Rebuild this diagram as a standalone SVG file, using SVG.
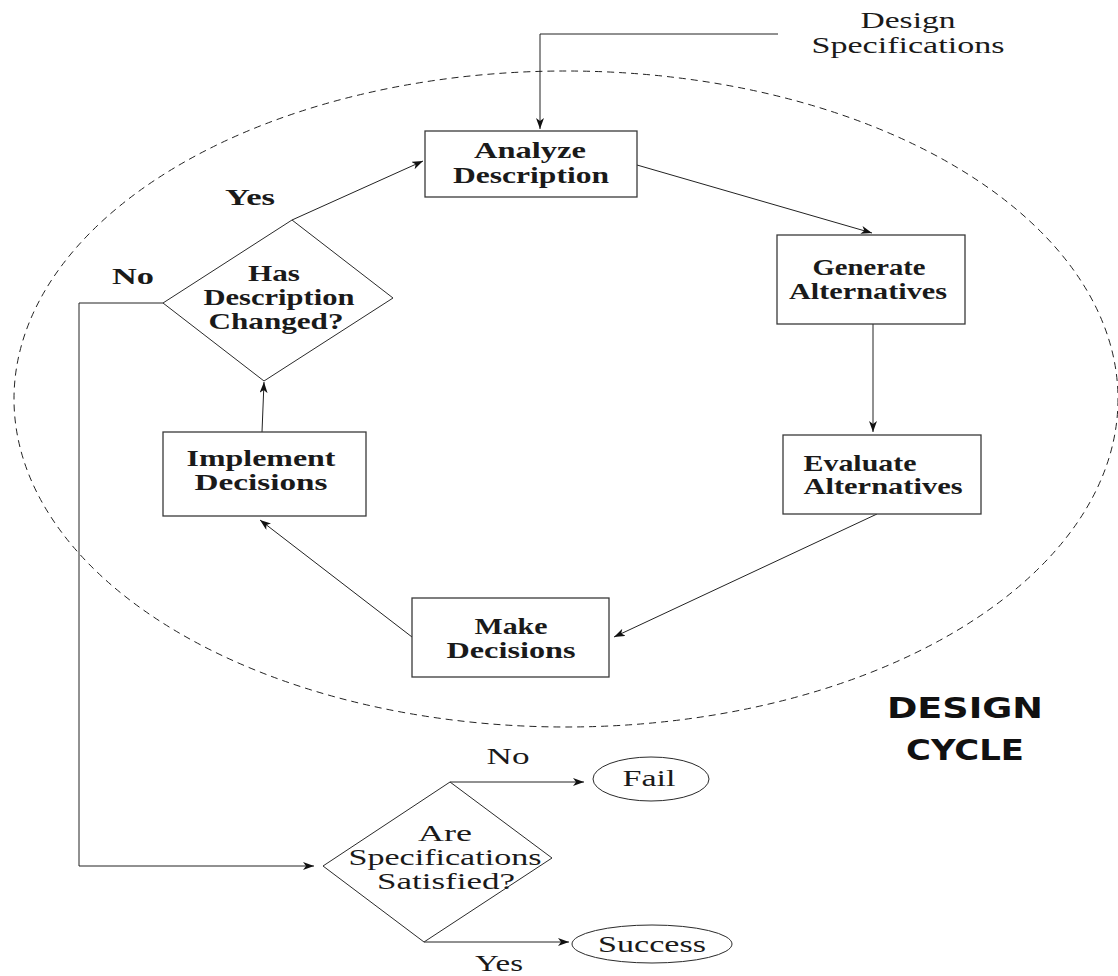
<svg xmlns="http://www.w3.org/2000/svg" width="1118" height="976" viewBox="0 0 1118 976">
<style>
.bg{fill:#fff}
.box{fill:#fff;stroke:#3a3a3a;stroke-width:1.3}
.dia{fill:#fff;stroke:#2a2a2a;stroke-width:1}
.ell{fill:#fff;stroke:#2a2a2a;stroke-width:1}
.cycle{fill:none;stroke:#222;stroke-width:1;stroke-dasharray:7,5}
.con{fill:none;stroke:#222;stroke-width:1}
.b{font-family:"Liberation Serif","Times New Roman",serif;font-weight:bold;font-size:23px;fill:#1a1a1a}
.r{font-family:"Liberation Serif","Times New Roman",serif;font-size:23px;fill:#1a1a1a}
.disp{font-family:"DejaVu Sans","Liberation Sans",sans-serif;font-weight:900;font-size:29px;fill:#111}
text{text-anchor:middle}
</style>
<defs>
<marker id="arr" markerUnits="userSpaceOnUse" markerWidth="12" markerHeight="9" refX="11" refY="4" orient="auto">
<path d="M0,0 L11,4 L0,8 L3,4 z" fill="#111"/>
</marker>
</defs>
<rect class="bg" x="0" y="0" width="1118" height="976"/>
<ellipse class="cycle" cx="566" cy="399" rx="552" ry="328"/>

<g id="connectors">
<polyline class="con" points="778,34 540,34 540,129" marker-end="url(#arr)"/>
<line class="con" x1="292" y1="220" x2="423" y2="161" marker-end="url(#arr)"/>
<line class="con" x1="637" y1="165" x2="872" y2="233" marker-end="url(#arr)"/>
<line class="con" x1="873" y1="324" x2="873" y2="432" marker-end="url(#arr)"/>
<line class="con" x1="877" y1="514" x2="614" y2="637" marker-end="url(#arr)"/>
<line class="con" x1="412" y1="637" x2="260" y2="520" marker-end="url(#arr)"/>
<line class="con" x1="262" y1="432" x2="264" y2="382" marker-end="url(#arr)"/>
<polyline class="con" points="163,303 79,303 79,866 314,866" marker-end="url(#arr)"/>
<polyline class="con" points="450,782 584,782" marker-end="url(#arr)"/>
<polyline class="con" points="424,942 569,942" marker-end="url(#arr)"/>
</g>

<g id="design-specifications">
<text class="r" x="908" y="28" textLength="95" lengthAdjust="spacingAndGlyphs">Design</text>
<text class="r" x="908" y="53" textLength="193" lengthAdjust="spacingAndGlyphs">Specifications</text>
</g>

<g id="analyze-description">
<rect class="box" x="425" y="131" width="212" height="66"/>
<text class="b" x="530" y="158" textLength="112" lengthAdjust="spacingAndGlyphs">Analyze</text>
<text class="b" x="531" y="183" textLength="156" lengthAdjust="spacingAndGlyphs">Description</text>
</g>

<g id="generate-alternatives">
<rect class="box" x="777" y="235" width="188" height="89"/>
<text class="b" x="869" y="275" textLength="113" lengthAdjust="spacingAndGlyphs">Generate</text>
<text class="b" x="868" y="299" textLength="158" lengthAdjust="spacingAndGlyphs">Alternatives</text>
</g>

<g id="evaluate-alternatives">
<rect class="box" x="783" y="435" width="198" height="79"/>
<text class="b" x="860" y="471" textLength="113" lengthAdjust="spacingAndGlyphs">Evaluate</text>
<text class="b" x="883" y="494" textLength="159" lengthAdjust="spacingAndGlyphs">Alternatives</text>
</g>

<g id="make-decisions">
<rect class="box" x="412" y="598" width="197" height="79"/>
<text class="b" x="511" y="634" textLength="73" lengthAdjust="spacingAndGlyphs">Make</text>
<text class="b" x="511" y="658" textLength="129" lengthAdjust="spacingAndGlyphs">Decisions</text>
</g>

<g id="implement-decisions">
<rect class="box" x="163" y="432" width="203" height="84"/>
<text class="b" x="261" y="466" textLength="149" lengthAdjust="spacingAndGlyphs">Implement</text>
<text class="b" x="261" y="490" textLength="133" lengthAdjust="spacingAndGlyphs">Decisions</text>
</g>

<g id="has-description-changed">
<polygon class="dia" points="292,220 393,298 264,381 163,303"/>
<text class="b" x="274" y="281" textLength="52" lengthAdjust="spacingAndGlyphs">Has</text>
<text class="b" x="279" y="305" textLength="151" lengthAdjust="spacingAndGlyphs">Description</text>
<text class="b" x="276" y="329" textLength="135" lengthAdjust="spacingAndGlyphs">Changed?</text>
</g>

<g id="are-specifications-satisfied">
<polygon class="dia" points="450,782 552,858 424,942 323,866"/>
<text class="r" x="445" y="841" textLength="54" lengthAdjust="spacingAndGlyphs">Are</text>
<text class="r" x="445" y="865" textLength="193" lengthAdjust="spacingAndGlyphs">Specifications</text>
<text class="r" x="446" y="889" textLength="138" lengthAdjust="spacingAndGlyphs">Satisfied?</text>
</g>

<g id="fail">
<ellipse class="ell" cx="651" cy="779" rx="58" ry="22"/>
<text class="r" x="649" y="786" textLength="53" lengthAdjust="spacingAndGlyphs">Fail</text>
</g>

<g id="success">
<ellipse class="ell" cx="652" cy="944" rx="80" ry="19"/>
<text class="r" x="652" y="952" textLength="108" lengthAdjust="spacingAndGlyphs">Success</text>
</g>

<g id="labels">
<text class="b" x="250" y="205" textLength="50" lengthAdjust="spacingAndGlyphs">Yes</text>
<text class="b" x="133" y="284" textLength="42" lengthAdjust="spacingAndGlyphs">No</text>
<text class="r" x="508" y="764" textLength="43" lengthAdjust="spacingAndGlyphs">No</text>
<text class="r" x="499" y="971" textLength="48" lengthAdjust="spacingAndGlyphs">Yes</text>
</g>

<g id="design-cycle-title">
<text class="disp" x="965" y="718" textLength="156" lengthAdjust="spacingAndGlyphs">DESIGN</text>
<text class="disp" x="965" y="760" textLength="118" lengthAdjust="spacingAndGlyphs">CYCLE</text>
</g>
</svg>
